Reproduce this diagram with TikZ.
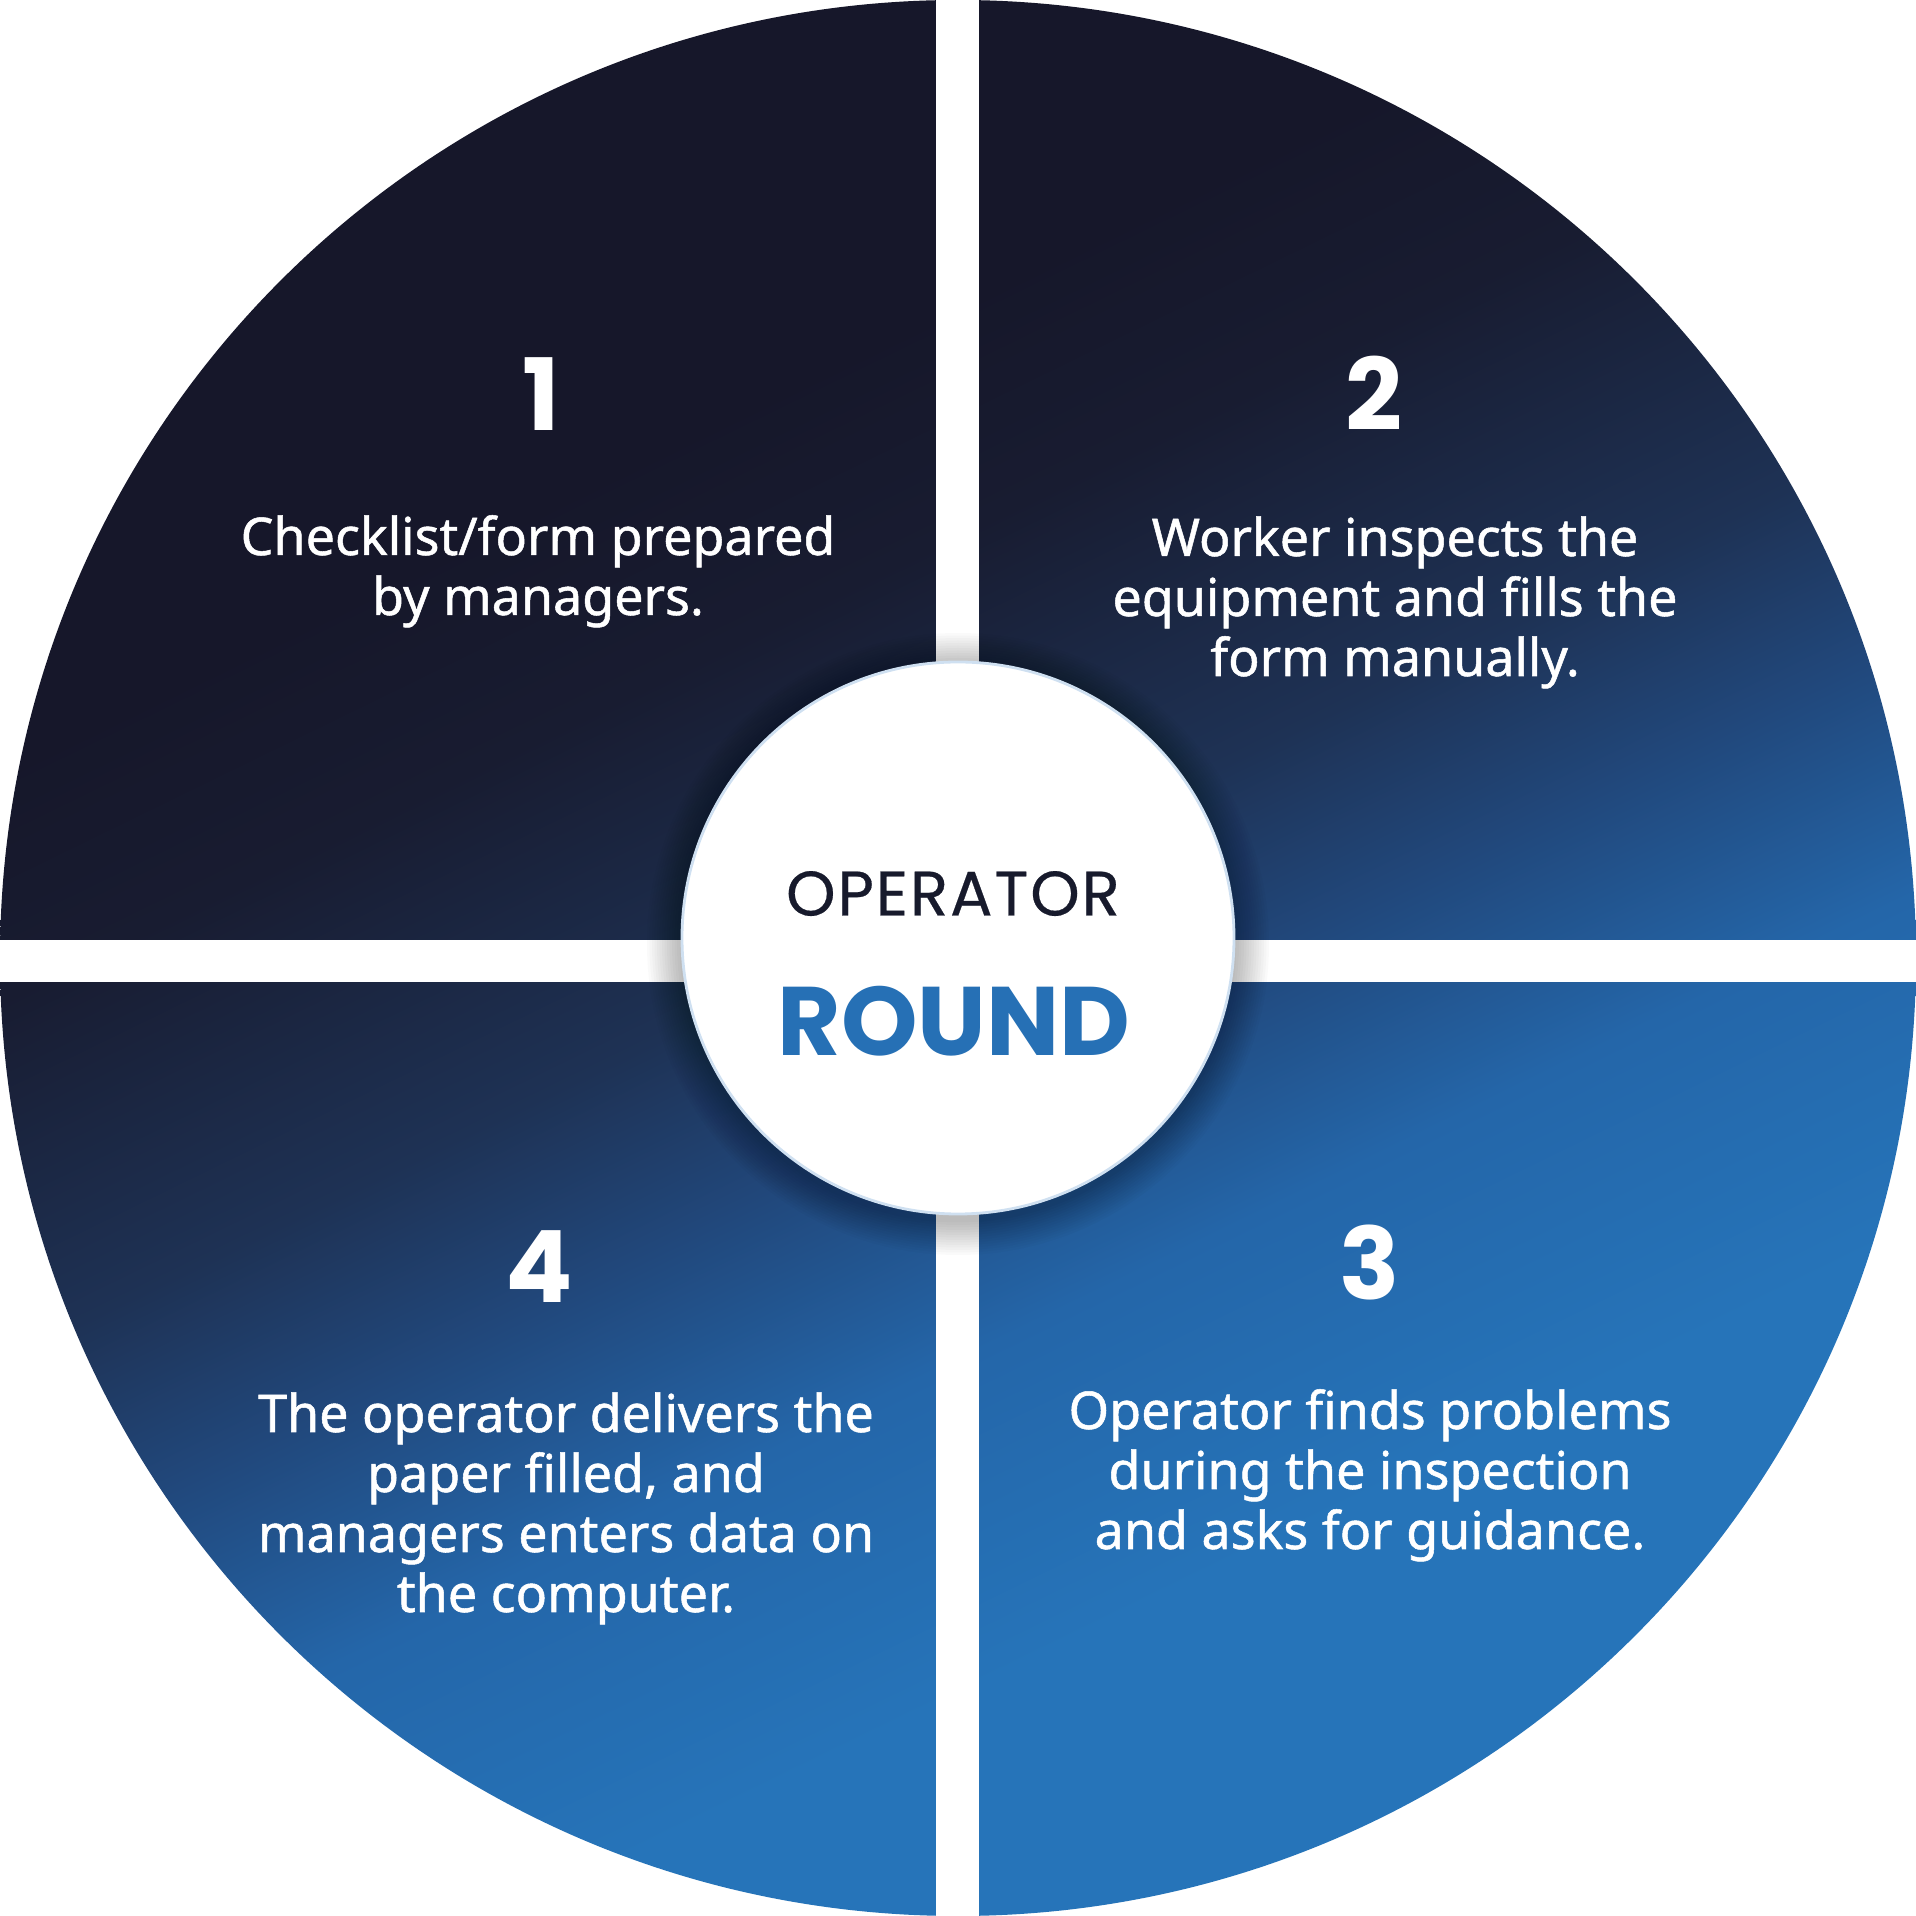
\documentclass[tikz,border=0pt]{standalone}
\usepackage{fontspec}
\newfontfamily\bodyfont{Noto Sans}[FakeBold=1]
\newfontfamily\popfont{Poppins}
\newfontfamily\popspaced{Poppins}[LetterSpace=3, FakeBold=0.4]
\definecolor{sA}{HTML}{2674B9}
\definecolor{sB}{HTML}{2466A9}
\definecolor{sC}{HTML}{21487C}
\definecolor{sD}{HTML}{1E3255}
\definecolor{sE}{HTML}{181C31}
\definecolor{sF}{HTML}{16172A}
\definecolor{ring}{HTML}{CFE0F1}
\definecolor{optext}{HTML}{171A2C}
\definecolor{roundblue}{HTML}{2670B5}
\pgfdeclareverticalshading{quadshade}{100bp}{color(0bp)=(sA); color(32.5bp)=(sA); color(40.5bp)=(sB); color(46.5bp)=(sC); color(51.5bp)=(sD); color(60bp)=(sE); color(65.6bp)=(sF); color(100bp)=(sF)}
\tikzset{
  bodyline/.style={anchor=base, text=white, inner sep=0pt, font=\bodyfont\fontsize{14.8}{17}\selectfont},
  numlabel/.style={anchor=base, text=white, inner sep=0pt, font=\popfont\bfseries\fontsize{28.4}{30}\selectfont},
}
\begin{document}
\begin{tikzpicture}[x=1cm,y=1cm]
\useasboundingbox (0,0) rectangle (19.16,19.16);
\fill[white] (0,0) rectangle (19.16,19.16);
% disc with gradient
\shade[shading=quadshade, shading angle=26] (9.58,9.58) circle (9.58);
% white separating gaps
\fill[white] (9.36,-0.1) rectangle (9.79,19.3);
\fill[white] (-0.1,9.34) rectangle (19.3,9.76);
% soft shadow of the hub
\foreach \i in {1,...,14} \fill[black, opacity=0.018] (9.58,9.72) circle ({2.76+0.025*\i});
\node[circle, draw=ring, line width=0.8pt, fill=white, minimum size=5.52cm, inner sep=0pt] (hub) at (9.58,9.78) {};
\node[anchor=base, inner sep=0pt, text=optext, font=\popspaced\fontsize{17.9}{20}\selectfont] (op) at (9.53,10.005) {OPERATOR};
\node[anchor=base, inner sep=0pt, text=roundblue, font=\popfont\bfseries\fontsize{27.7}{30}\selectfont] (rnd) at (9.54,8.60) {ROUND};
% numbers
\node[numlabel] (n1) at (5.41,14.85) {1};
\node[numlabel] (n2) at (13.74,14.85) {2};
\node[numlabel] (n3) at (13.70,6.16) {3};
\node[numlabel] (n4) at (5.39,6.13) {4};
% block 1
\node[bodyline] (t1a) at (5.38,13.61) {Checklist/form prepared};
\node[bodyline] (t1b) at (5.38,13.01) {by managers.};
% block 2
\node[bodyline] (t2a) at (13.95,13.60) {Worker inspects the};
\node[bodyline] (t2b) at (13.95,13.00) {equipment and fills the};
\node[bodyline] (t2c) at (13.95,12.40) {form manually.};
% block 3
\node[bodyline] (t3a) at (13.70,4.87) {Operator finds problems};
\node[bodyline] (t3b) at (13.70,4.27) {during the inspection};
\node[bodyline] (t3c) at (13.70,3.67) {and asks for guidance.};
% block 4
\node[bodyline] (t4a) at (5.66,4.84) {The operator delivers the};
\node[bodyline] (t4b) at (5.66,4.24) {paper filled, and};
\node[bodyline] (t4c) at (5.66,3.64) {managers enters data on};
\node[bodyline] (t4d) at (5.66,3.04) {the computer.};
\end{tikzpicture}
\end{document}
